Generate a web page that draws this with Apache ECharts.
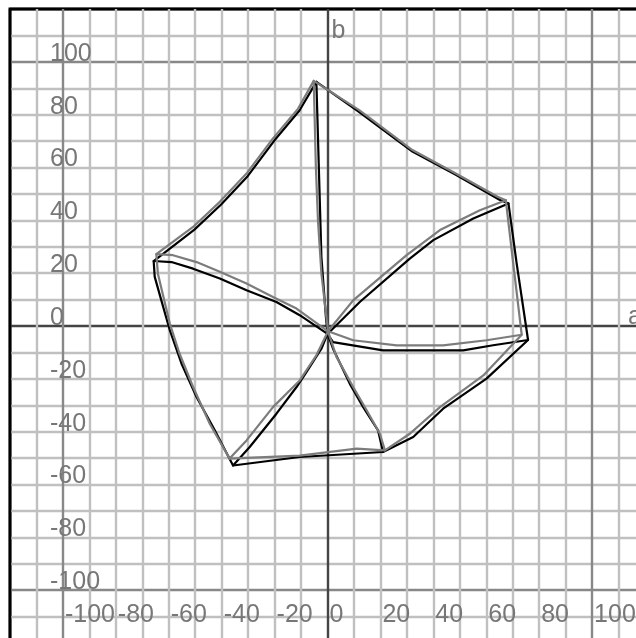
<!DOCTYPE html>
<html style="height: 100%">
<head>
  <meta charset="utf-8">
  <script type="text/javascript" src="https://cdn.jsdelivr.net/npm/echarts@6/dist/echarts.min.js"></script>
</head>
<body style="width: 100%; height: 100%; margin: 0; background: #fff">
<div id="main" style="width: 636px; height: 638px;"></div>
<script type="text/javascript">

// axis range and tick labels
var axisMin = -120, axisMax = 120, step = 10;
var tickLabels = [-100, -80, -60, -40, -20, 0, 20, 40, 60, 80, 100];

// outer rim, closed loop T -> UR -> R -> BR -> BL -> L -> T
var rimBlack = [
  [-4.2, 92.4], [12.0, 81.0], [32.1, 66.0], [48.5, 57.2], [65.0, 47.8], [68.4, 46.4],
  [71.5, 23.6], [75.8, -5.3],
  [60.1, -19.9], [43.7, -31.3], [32.4, -42.0], [21.0, -47.7],
  [-10.5, -49.6], [-35.7, -52.8],
  [-42.6, -39.5], [-49.5, -26.9], [-55.2, -14.2], [-59.6, -1.6], [-62.8, 9.7], [-65.3, 18.6], [-65.7, 24.6],
  [-50.3, 36.5], [-40.2, 46.0], [-30.1, 56.8], [-20.1, 70.2], [-10.6, 81.6], [-4.2, 92.4]
];
var rimGray = [
  [-5.2, 92.8], [12.0, 81.7], [32.1, 66.6], [48.5, 57.7], [64.3, 48.9], [67.4, 47.6],
  [70.2, 23.6], [73.4, -3.3],
  [58.9, -18.7], [42.5, -30.7], [31.1, -40.8], [21.7, -47.1],
  [11.0, -46.4], [-10.5, -49.1], [-37.0, -50.2],
  [-44.5, -37.0], [-50.8, -23.1], [-55.9, -10.5], [-59.6, 0.9], [-64.1, 19.8], [-64.7, 27.2],
  [-50.8, 37.5], [-40.7, 47.0], [-30.6, 57.7], [-20.6, 71.0], [-11.1, 82.3], [-5.2, 92.8]
];

// spokes from each rim corner to the middle
var spokesBlack = [
  [[-4.2, 92.4], [-2.3, 26.1], [-0.6, 3.4], [0.0, -3.0]],
  [[68.4, 46.4], [55.1, 40.7], [40.0, 32.5], [31.1, 25.5], [12.2, 9.1], [0.0, -3.0]],
  [[75.8, -5.3], [62.6, -7.3], [51.3, -9.2], [21.0, -9.2], [2.1, -6.1], [0.0, -3.0]],
  [[21.0, -47.7], [19.1, -39.5], [13.5, -30.7], [8.4, -21.8], [2.1, -8.6], [0.0, -3.0]],
  [[-35.7, -52.8], [-29.4, -45.8], [-19.3, -33.2], [-11.7, -23.1], [-7.9, -17.4], [-2.3, -8.6], [0.0, -3.0]],
  [[-65.7, 24.6], [-59.0, 24.2], [-50.8, 21.7], [-40.7, 18.0], [-30.6, 13.5], [-19.3, 9.1], [-10.5, 4.1], [0.0, -3.0]]
];
var spokesGray = [
  [[-5.2, 92.8], [-4.4, 60.2], [-3.6, 40.0], [-2.3, 19.8], [0.2, -2.0]],
  [[67.4, 47.6], [57.6, 43.8], [42.5, 36.3], [29.9, 26.8], [9.7, 9.7], [0.2, -2.0]],
  [[73.4, -3.3], [60.1, -5.4], [43.7, -7.3], [26.1, -7.3], [9.7, -5.4], [0.2, -2.0]],
  [[21.7, -47.1], [19.8, -40.8], [14.8, -31.9], [9.7, -23.1], [3.4, -11.7], [0.2, -2.0]],
  [[-37.0, -50.2], [-30.6, -43.3], [-20.6, -30.7], [-10.5, -20.6], [-4.2, -11.1], [0.2, -2.0]],
  [[-64.7, 27.2], [-58.4, 26.8], [-49.5, 24.2], [-40.7, 20.5], [-30.6, 16.1], [-20.6, 11.0], [-11.7, 6.6], [0.2, -2.0]]
];

var font = 'Liberation Sans';
var labelColor = '#777';
var fontSize = 25;

// grid line colour per tick: frame, axes, +-100, the rest
var gridColors = [];
for (var v = axisMin; v <= axisMax; v += step) {
  if (v === axisMin || v === axisMax) gridColors.push('#000');
  else if (v === 0) gridColors.push('#444');
  else if (Math.abs(v) === 100) gridColors.push('#888');
  else gridColors.push('#c0c0c0');
}

var fmt = function (val) {
  return tickLabels.indexOf(val) >= 0 ? String(val) : '';
};

var lineSeries = function (data, color) {
  return {
    type: 'line',
    data: data,
    showSymbol: false,
    symbol: 'none',
    silent: true,
    lineStyle: { color: color, width: 2.2, join: 'round', cap: 'round' }
  };
};

var series = [];
series.push(lineSeries(rimBlack, '#000'));
spokesBlack.forEach(function (s) { series.push(lineSeries(s, '#000')); });
series.push(lineSeries(rimGray, '#7c7c7c'));
spokesGray.forEach(function (s) { series.push(lineSeries(s, '#7c7c7c')); });

var myChart = echarts.init(document.getElementById('main'), null, { renderer: 'canvas' });
var option = {
  animation: false,
  backgroundColor: '#fff',
  grid: {
    left: 10, top: 9, width: 635, height: 634,
    show: true, borderColor: '#000', borderWidth: 3,
    containLabel: false, outerBoundsMode: 'none'
  },
  xAxis: {
    type: 'value', min: axisMin, max: axisMax, interval: step,
    position: 'bottom',
    axisLine: { show: false }, axisTick: { show: false },
    splitLine: { show: true, lineStyle: { color: gridColors, width: 2.4 } },
    axisLabel: {
      inside: true, margin: 28, align: 'left', verticalAlign: 'middle',
      padding: [0, 0, 0, 2],
      fontSize: fontSize, fontFamily: font, color: labelColor, formatter: fmt
    }
  },
  yAxis: {
    type: 'value', min: axisMin, max: axisMax, interval: step,
    position: 'left',
    axisLine: { show: false }, axisTick: { show: false },
    splitLine: { show: true, lineStyle: { color: gridColors, width: 2.4 } },
    axisLabel: {
      inside: true, margin: 40, align: 'left', verticalAlign: 'bottom',
      lineHeight: 16,
      fontSize: fontSize, fontFamily: font, color: labelColor, formatter: fmt
    }
  },
  series: series
};
myChart.setOption(option);

// axis names sit next to the zero lines
var pA = myChart.convertToPixel({ gridIndex: 0 }, [113.6, 3.3]);
var pB = myChart.convertToPixel({ gridIndex: 0 }, [1.5, 111.8]);
myChart.setOption({
  graphic: [
    { type: 'text', x: pA[0], y: pA[1], z: 10,
      style: { text: 'a', fontSize: fontSize, fontFamily: font, fill: labelColor, align: 'left', verticalAlign: 'middle' } },
    { type: 'text', x: pB[0], y: pB[1], z: 10,
      style: { text: 'b', fontSize: fontSize, fontFamily: font, fill: labelColor, align: 'left', verticalAlign: 'middle' } }
  ]
});

</script>
</body>
</html>
